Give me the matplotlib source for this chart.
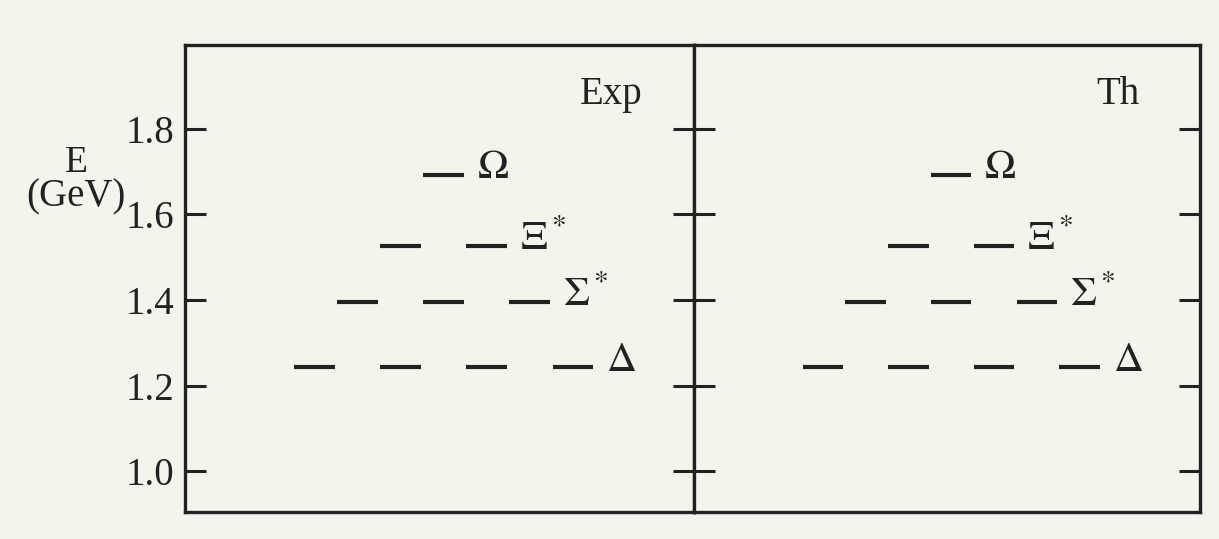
import numpy as np
from matplotlib import pyplot as plt

## Data (GeV)
names = [r'$\Delta$', r'$\Sigma^*$', r'$\Xi^*$', r'$\Omega$']
multiplicity = [4, 3, 2, 1]
exp_mass = [1.243, 1.394, 1.525, 1.692]
th_mass = [1.243, 1.394, 1.525, 1.692]
panel_titles = ['Exp', 'Th']
yticks = [1.0, 1.2, 1.4, 1.6, 1.8]

plt.rcParams['font.family'] = ['Liberation Serif', 'DejaVu Serif']
plt.rcParams['mathtext.fontset'] = 'stix'

ink = '#222222'
paper = '#f5f4ec'

fig = plt.figure(figsize=(12.19, 5.39), dpi=100, facecolor=paper)
W, H = 1219.0, 539.0
ax1 = fig.add_axes([185/W, (H-512)/H, (694-185)/W, (512-45)/H])
ax2 = fig.add_axes([694/W, (H-512)/H, (1200-694)/W, (512-45)/H])

def draw_panel(ax, masses, title, labels):
    ax.set_facecolor(paper)
    ax.set_xlim(0, 12)
    ax.set_ylim(0.905, 1.995)
    for n, m, name in zip(multiplicity, masses, names):
        xs = 6.1 + (np.arange(n) - (n-1)/2.0) * 2.03
        for x in xs:
            ax.plot([x-0.48, x+0.48], [m, m], color=ink, lw=3, solid_capstyle='butt')
        ax.text(xs[-1] + 0.48 + 0.3, m - 0.008, name, fontsize=30, color=ink,
                ha='left', va='baseline')
    ax.text(0.837, 0.895, title, transform=ax.transAxes, fontsize=28,
            color=ink, ha='center', va='center')
    ax.set_xticks([])
    ax.set_yticks(yticks)
    ax.tick_params(axis='y', direction='in', length=15, width=2.2, color=ink,
                   left=True, right=True, labelleft=labels, labelright=False,
                   labelsize=28, labelcolor=ink, pad=8)
    for s in ax.spines.values():
        s.set_linewidth(2.4)
        s.set_color(ink)
    if labels:
        ax.set_yticklabels(['%.1f' % t for t in yticks])

draw_panel(ax1, exp_mass, panel_titles[0], True)
draw_panel(ax2, th_mass, panel_titles[1], False)

fig.text(76/W, 1 - 163/H, 'E', fontsize=27, color=ink, ha='center', va='center')
fig.text(76/W, 1 - 197/H, '(GeV)', fontsize=28, color=ink, ha='center', va='center')

plt.savefig('out.png', dpi=100, facecolor=paper)
